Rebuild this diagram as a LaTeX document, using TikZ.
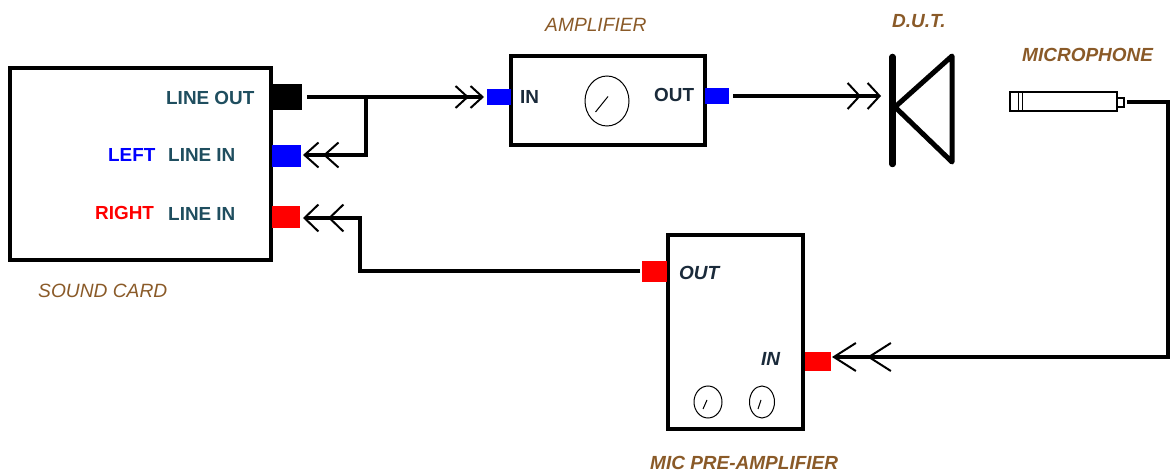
\documentclass[tikz,border=0pt]{standalone}
\usepackage{fontspec}
\setmainfont{Liberation Sans}
\usetikzlibrary{arrows.meta,decorations.markings,shapes.geometric}
\definecolor{tealtxt}{HTML}{1F4E5F}
\definecolor{browntxt}{HTML}{8A5A28}
\definecolor{darktxt}{HTML}{1A2A3A}
\tikzset{
  box/.style={draw=black,fill=white,inner sep=0pt,line width=#1},
  port/.style={draw=none,inner sep=0pt,fill=#1},
  wire/.style={draw=black,line width=3.4pt},
  dbl/.style n args={3}{-{Straight Barb[length=#1pt,width=#2pt,line width=2pt]},
     postaction={decorate,decoration={markings,
     mark=at position -#3pt with {\arrow{Straight Barb[length=#1pt,width=#2pt,line width=2pt]}}}}},
  lab/.style={font=\bfseries\fontsize{18.9}{20}\selectfont,text=tealtxt,inner sep=0pt,anchor=west},
  captxt/.style={font=\itshape\fontsize{19.2}{20}\selectfont,text=browntxt,inner sep=0pt,anchor=west},
  captxtb/.style={font=\itshape\bfseries\fontsize{19}{20}\selectfont,text=browntxt,inner sep=0pt,anchor=west},
  knob/.style={draw=black,line width=1pt,fill=white,shape=ellipse},
  lid/.style={font=\itshape\bfseries\fontsize{19}{20}\selectfont,text=darktxt,inner sep=0pt,anchor=west},
}
\begin{document}
\begin{tikzpicture}[x=1pt,y=-1pt]
\useasboundingbox (0,0) rectangle (1170,473);
% boxes
\node[box=3.5pt,minimum width=261pt,minimum height=192pt] (card) at (140.5,164) {};
\node[box=3.5pt,minimum width=194pt,minimum height=89pt] (amp) at (608,100.5) {};
\node[box=4.5pt,minimum width=135pt,minimum height=194pt] (pre) at (735.5,332) {};
% ports
\node[port=black,minimum width=31pt,minimum height=26pt] (lo) at (286,97.5) {};
\node[port=blue,minimum width=29pt,minimum height=22pt] (li) at (286.5,156) {};
\node[port=red,minimum width=28pt,minimum height=22pt] (ri) at (286,217) {};
\node[port=blue,minimum width=24pt,minimum height=16pt] (ampin) at (499,97) {};
\node[port=blue,minimum width=24pt,minimum height=16pt] (ampout) at (717,96) {};
\node[port=red,minimum width=25pt,minimum height=21pt] (preout) at (654.5,271.5) {};
\node[port=red,minimum width=26pt,minimum height=19pt] (prein) at (818,361) {};
% wires
\coordinate (tee) at (366,97);
\coordinate (cornerL) at (366,155);
\coordinate (cornerR) at (360,218);
\coordinate (cornerP) at (360,271);
\coordinate (dutin) at (881,96);
\coordinate (m1) at (1168,102);
\coordinate (m2) at (1168,357);
\coordinate (mout) at (1127,102);
\coordinate (pin) at (832,357);
\coordinate (lostart) at (307,97);
\coordinate (loend) at (484,97);
\coordinate (liend) at (303,155);
\coordinate (riend) at (303,218);
\coordinate (aostart) at (733,96);
\coordinate (postart) at (640,271);
\draw[wire,dbl={12}{22}{15}] (lostart) -- (loend);
\draw[wire,dbl={14}{25}{20},line join=miter] (tee) -- (cornerL) -- (liend);
\draw[wire,dbl={12}{26}{20}] (aostart) -- (dutin);
\draw[wire,dbl={14}{27}{25}] (postart) -- (cornerP) -- (cornerR) -- (riend);
\draw[wire,dbl={22}{28}{35}] (mout) -- (m1) -- (m2) -- (pin);
% knobs
\node[knob,minimum width=44pt,minimum height=50pt,inner sep=0pt] (k1) at (607,101) {};
\draw[line width=1pt] (595.5,112) -- (608,96.5);
\node[knob,minimum width=28pt,minimum height=32pt,inner sep=0pt] (k2) at (708,402) {};
\draw[line width=1pt] (703,409) -- (707,400);
\node[knob,minimum width=25pt,minimum height=32pt,inner sep=0pt] (k3) at (762,402) {};
\draw[line width=1pt] (758,409) -- (761,400);
% speaker
\draw[line width=6.5pt,line cap=round] (892.5,57) -- (892.5,164);
\draw[line width=5pt,line cap=round,line join=round] (895,107) -- (952,56) -- (952,162) -- cycle;
% microphone
\node[box=2pt,minimum width=107pt,minimum height=19pt] (mic) at (1063.5,102) {};
\node[box=1.6pt,minimum width=7pt,minimum height=9pt] (mictip) at (1120.5,102.5) {};
\draw[line width=1pt] (1018,93) -- (1018,112) (1022,93) -- (1022,112);
% labels
\node[lab] (t1) at (166,98) {LINE OUT};
\node[lab,text=blue] (t2) at (108,155) {LEFT};
\node[lab] (t3) at (168,155) {LINE IN};
\node[lab,text=red] (t4) at (95,213) {RIGHT};
\node[lab] (t5) at (168,214) {LINE IN};
\node[lab,text=darktxt] (t6) at (520,97) {IN};
\node[lab,text=darktxt] (t7) at (654,95) {OUT};
\node[lid] (t8) at (679,273) {OUT};
\node[lid] (t9) at (761,359) {IN};
\node[captxt] (c1) at (38,291) {SOUND CARD};
\node[captxt] (c2) at (545,25) {AMPLIFIER};
\node[captxtb] (c3) at (892,21) {D.U.T.};
\node[captxtb] (c4) at (1022,55) {MICROPHONE};
\node[captxtb] (c5) at (650,463) {MIC PRE-AMPLIFIER};
\end{tikzpicture}
\end{document}
